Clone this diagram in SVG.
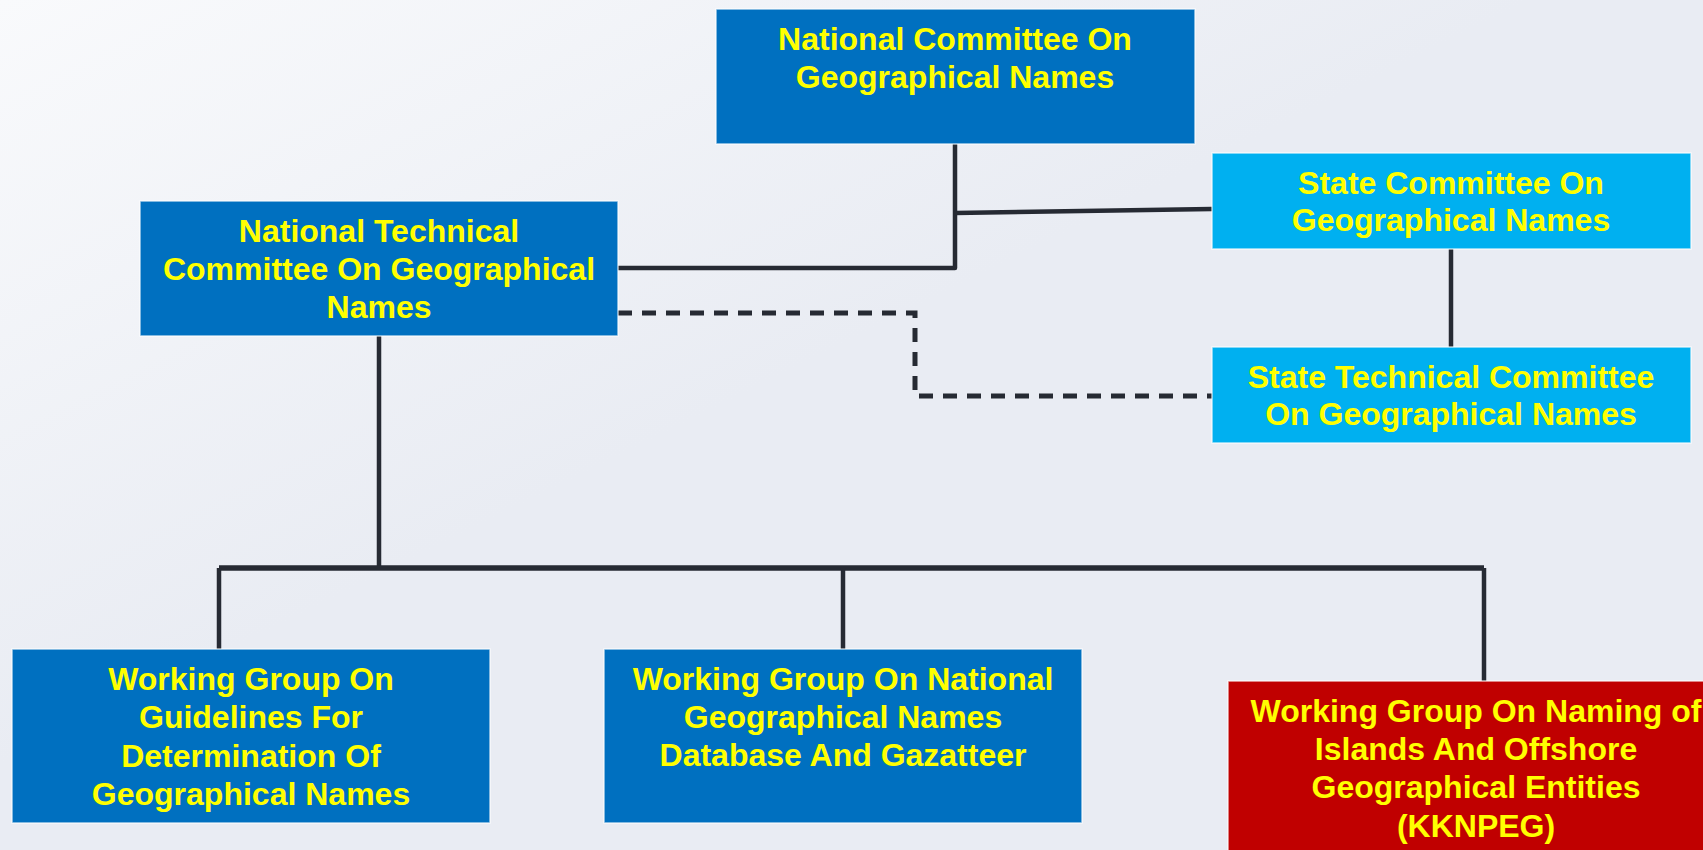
<svg xmlns="http://www.w3.org/2000/svg" width="1703" height="850" viewBox="0 0 1703 850">
<defs>
<linearGradient id="bg" x1="0" y1="0" x2="1" y2="1">
<stop offset="0" stop-color="#f9fafc"/>
<stop offset="0.45" stop-color="#e9ecf3"/>
<stop offset="1" stop-color="#e9ecf3"/>
</linearGradient>
<style>
.box{stroke:#ffffff;stroke-width:1.5;stroke-opacity:0.7}
.dark{fill:#0070c0}
.light{fill:#00b0f0}
.red{fill:#c00000}
.t{font-family:"Liberation Sans",Arial,sans-serif;font-weight:bold;font-size:32px;fill:#ffff00;text-anchor:middle}
.ln{fill:none;stroke:#262a33;stroke-width:4.5;stroke-linejoin:round}
.dash{fill:none;stroke:#262a33;stroke-width:5;stroke-dasharray:14 10}
</style>
</defs>
<rect width="1703" height="850" fill="url(#bg)"/>
<g id="connectors">
<polyline class="ln" points="955,144 955,268 618,268"/>
<line class="ln" x1="955" y1="213" x2="1212" y2="209"/>
<line class="ln" x1="1451" y1="249" x2="1451" y2="347"/>
<polyline class="dash" points="618,313 915,313 915,396 1212,396"/>
<line class="ln" x1="379" y1="336" x2="379" y2="568"/>
<line class="ln" x1="219" y1="568" x2="1484" y2="568" style="stroke-width:5.5"/>
<line class="ln" x1="219" y1="568" x2="219" y2="649"/>
<line class="ln" x1="843" y1="568" x2="843" y2="649"/>
<line class="ln" x1="1484" y1="568" x2="1484" y2="681"/>
</g>
<g id="national-committee">
<rect class="box dark" x="716" y="9" width="479" height="135"/>
<text class="t" x="955" y="50">National Committee On</text>
<text class="t" x="955" y="88">Geographical Names</text>
</g>
<g id="national-technical-committee">
<rect class="box dark" x="140" y="201" width="478" height="135"/>
<text class="t" x="379" y="242">National Technical</text>
<text class="t" x="379" y="280">Committee On Geographical</text>
<text class="t" x="379" y="318">Names</text>
</g>
<g id="state-committee">
<rect class="box light" x="1212" y="153" width="479" height="96"/>
<text class="t" x="1451" y="194">State Committee On</text>
<text class="t" x="1451" y="231">Geographical Names</text>
</g>
<g id="state-technical-committee">
<rect class="box light" x="1212" y="347" width="479" height="96"/>
<text class="t" x="1451" y="388">State Technical Committee</text>
<text class="t" x="1451" y="425">On Geographical Names</text>
</g>
<g id="wg-guidelines">
<rect class="box dark" x="12" y="649" width="478" height="174"/>
<text class="t" x="251" y="690">Working Group On</text>
<text class="t" x="251" y="728">Guidelines For</text>
<text class="t" x="251" y="767">Determination Of</text>
<text class="t" x="251" y="805">Geographical Names</text>
</g>
<g id="wg-database">
<rect class="box dark" x="604" y="649" width="478" height="174"/>
<text class="t" x="843" y="690">Working Group On National</text>
<text class="t" x="843" y="728">Geographical Names</text>
<text class="t" x="843" y="766">Database And Gazatteer</text>
</g>
<g id="wg-islands">
<rect class="box red" x="1228" y="681" width="496" height="180"/>
<text class="t" x="1476" y="722">Working Group On Naming of</text>
<text class="t" x="1476" y="760">Islands And Offshore</text>
<text class="t" x="1476" y="798">Geographical Entities</text>
<text class="t" x="1476" y="837">(KKNPEG)</text>
</g>
</svg>
